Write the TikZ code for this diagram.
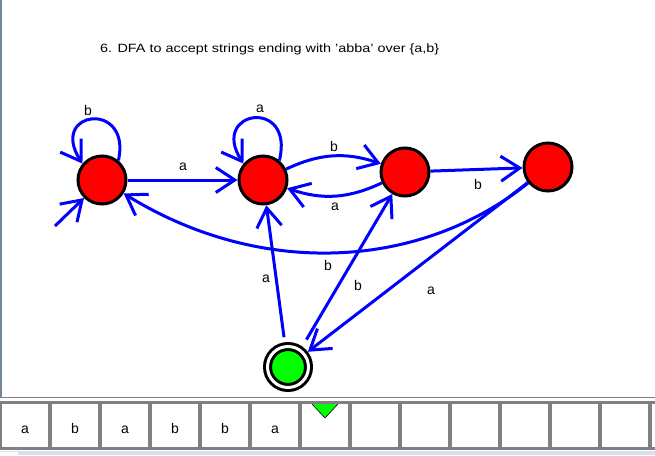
\documentclass[tikz,border=0pt]{standalone}
\usepackage{fontspec}
\setmainfont{Liberation Sans}
\usetikzlibrary{arrows.meta}
\definecolor{edgeblue}{RGB}{0,0,255}
\definecolor{stred}{RGB}{255,0,0}
\definecolor{stgreen}{RGB}{0,255,0}
\definecolor{tapegray}{RGB}{128,128,128}
\definecolor{framegray}{RGB}{120,135,150}
\definecolor{barblue}{RGB}{215,225,238}
\begin{document}
\begin{tikzpicture}[x=1pt,y=-1pt,
  state/.style={circle, draw=black, line width=3pt, fill=stred, minimum size=48pt, inner sep=0pt},
  accept/.style={circle, draw=black, line width=3pt, double=white, double distance=3pt, fill=stgreen, minimum size=41pt, inner sep=0pt, outer sep=4.5pt},
  edge/.style={draw=edgeblue, line width=3pt, -{Straight Barb[length=19pt,width=25pt]}},
  lbl/.style={font=\fontsize{14}{14}\selectfont, inner sep=0pt, anchor=base},
  tapetxt/.style={font=\fontsize{14}{14}\selectfont, inner sep=0pt, anchor=base},
  titletxt/.style={font=\fontsize{12}{12}\selectfont, inner sep=0pt, anchor=base west}]

\useasboundingbox (0,0) rectangle (655,455);
\fill[white] (0,0) rectangle (655,455);

% frame lines
\draw[framegray, line width=1.5pt] (0.75,0) -- (0.75,397);
\draw[tapegray, line width=1.2pt] (0,397.5) -- (655,397.5);

% title
\node[titletxt] (title) at (100,52.3) {\scalebox{1.2}[1]{6. DFA to accept strings ending with 'abba' over \{a,b\}}};

% states
\node[state] (q0) at (102,180) {};
\node[state] (q1) at (263,180) {};
\node[state] (q2) at (405,172) {};
\node[state] (q3) at (548,167) {};
\node[accept] (q4) at (288,367) {};

% start arrow
\coordinate (s) at (55,226);
\draw[edge] (s) -- (q0.225);

% loops
\draw[edge] (q0.50) .. controls (132,100) and (48,110) .. (q0.140);
\draw[edge] (q1.50) .. controls (295,97) and (209,110) .. (q1.140);

% transitions
\draw[edge] (q0) -- (q1);
\draw[edge] (q1) to[bend left=22] (q2);
\draw[edge] (q2) to[bend left=22] (q1);
\draw[edge] (q2) -- (q3);
\draw[edge] (q3) .. controls (420,270) and (260,278) .. (q0);
\draw[edge] (q3) -- (q4);
\draw[edge, shorten <=5pt] (q4) -- (q1);
\draw[edge, shorten <=8pt] (q4.55) -- (q2.240);

% labels
\node[lbl] (l1) at (88,115.7) {b};
\node[lbl] (l2) at (183,170.7) {a};
\node[lbl] (l3) at (260,112.7) {a};
\node[lbl] (l4) at (334,151.7) {b};
\node[lbl] (l5) at (335,210.7) {a};
\node[lbl] (l6) at (478,189) {b};
\node[lbl] (l7) at (328,270.7) {b};
\node[lbl] (l8) at (266,282.7) {a};
\node[lbl] (l9) at (358,290.7) {b};
\node[lbl] (l10) at (431,294) {a};

% tape
\fill[tapegray] (0,401) rectangle (655,449.5);
\foreach \i in {0,...,13} {
  \fill[white] (50*\i+2,403.5) rectangle (50*\i+48,447);
}
\foreach \c [count=\i from 0] in {a,b,a,b,b,a} {
  \node[tapetxt] (t\i) at (50*\i+25,433.3) {\c};
}
\fill[stgreen] (312,404) -- (338,404) -- (325,418) -- cycle;
\draw[black, line width=0.6pt] (312,404) -- (325,418) -- (338,404);
\fill[barblue] (0,451) rectangle (655,455);
\fill[white] (0,451.5) rectangle (18,455);
\end{tikzpicture}
\end{document}
